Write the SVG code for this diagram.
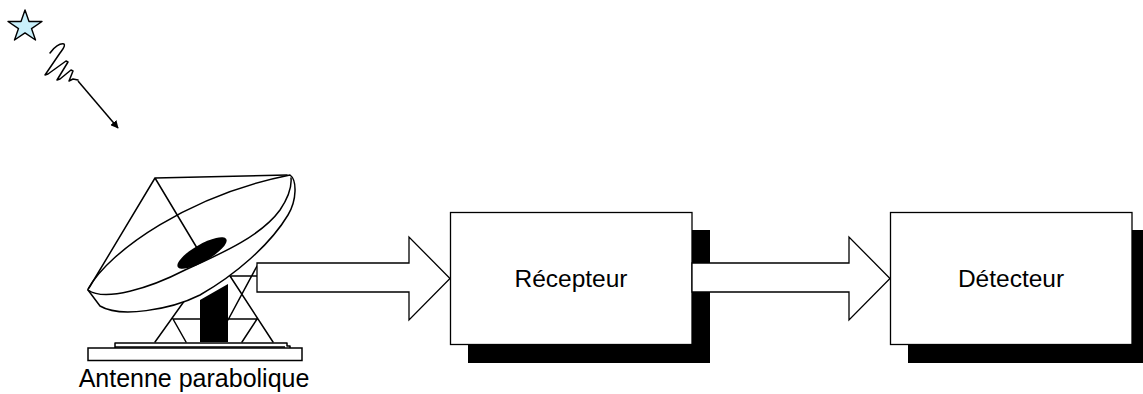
<svg xmlns="http://www.w3.org/2000/svg" width="1143" height="394" viewBox="0 0 1143 394">
<style>
.ln{fill:none;stroke:#000;stroke-width:1.5;stroke-linecap:round;stroke-linejoin:round}
.box{fill:#fff;stroke:#000;stroke-width:1.3}
.shadow{fill:#000}
.barrow{fill:#fff;stroke:#000;stroke-width:1.3;stroke-linejoin:miter}
.lbl{font-family:"Liberation Sans",Arial,sans-serif;font-size:24.5px;fill:#000;text-anchor:middle}
</style>
<defs>
<marker id="ah" viewBox="0 0 10 10" refX="9" refY="5" markerWidth="8" markerHeight="8" markerUnits="userSpaceOnUse" orient="auto">
<path d="M0,0 L10,5 L0,10 z" fill="#000"/>
</marker>
</defs>

<g id="star">
<polygon points="25,10 29,21.5 42,21.5 31.5,28.6 35.5,40 25,32.9 14.5,40 18.5,28.6 8,21.5 21,21.5" fill="#c9f0fb" stroke="#000" stroke-width="1.4" stroke-linejoin="round"/>
</g>

<g id="wave">
<path class="ln" d="M50,53 C54,47 60,43 64,44 C66,46 62,50 60,53 L45,75 L48,74 L66,61 L68,62 L57,80 L60,79 L71,70 L73,71 L69,81 L73,79 L78,80"/>
</g>

<g id="antenna">
<g id="tower">
<polygon points="200,300 228,284 228,342 200,342" fill="#000"/>
<path class="ln" d="M155,342 L185,300 M173,319 L186,342 M173,319 L200,319"/>
<path class="ln" d="M230,276 L257,276 M228,319 L257,319 M230,276 L273,342 M257,266 L228,320 M257,319 L242,342"/>
</g>
<g id="base">
<path class="ln" d="M115,348 V343 H287 V346 H290 V348"/>
<rect x="88" y="348" width="214" height="12.5" fill="#fff" stroke="#000" stroke-width="1.5"/>
<line x1="115" y1="347" x2="285" y2="347" stroke="#000" stroke-width="1.5"/>
</g>
<g id="dish">
<path d="M88,289 C110,250 190,195 290,175 C297,180 297,200 288,215 C270,245 235,275 200,295 C170,310 120,318 100,306 L88,290 Z" fill="#fff" stroke="#000" stroke-width="1.5" stroke-linejoin="round"/>
<path class="ln" d="M88,290 C105,302 150,288 185,270 C225,252 262,235 280,210 C288,198 292,188 291,178"/>
<path class="ln" d="M287,175 L155,178 L89,288 M155,178 L197,248"/>
<ellipse cx="202" cy="253" rx="28" ry="8.5" transform="rotate(-30 202 253)" fill="#000"/>
</g>
<text class="lbl" x="194" y="387" style="font-size:25px">Antenne parabolique</text>
</g>

<g id="recepteur">
<rect class="shadow" x="468" y="230" width="242" height="133"/>
<rect class="box" x="450.5" y="212.5" width="241.5" height="132"/>
<text class="lbl" x="571" y="287">Récepteur</text>
</g>

<g id="detecteur">
<rect class="shadow" x="908" y="230" width="242" height="133"/>
<rect class="box" x="890.5" y="212.5" width="241.5" height="132"/>
<text class="lbl" x="1011" y="287">Détecteur</text>
</g>

<g id="connectors">
<line x1="78" y1="81" x2="118" y2="128" stroke="#000" stroke-width="1.5" marker-end="url(#ah)"/>
<polygon class="barrow" points="257,263 409,263 409,237 450,278.5 409,320 409,292 257,292"/>
<polygon class="barrow" points="692,263 849,263 849,237 890,278.5 849,320 849,292 692,292"/>
</g>
</svg>
